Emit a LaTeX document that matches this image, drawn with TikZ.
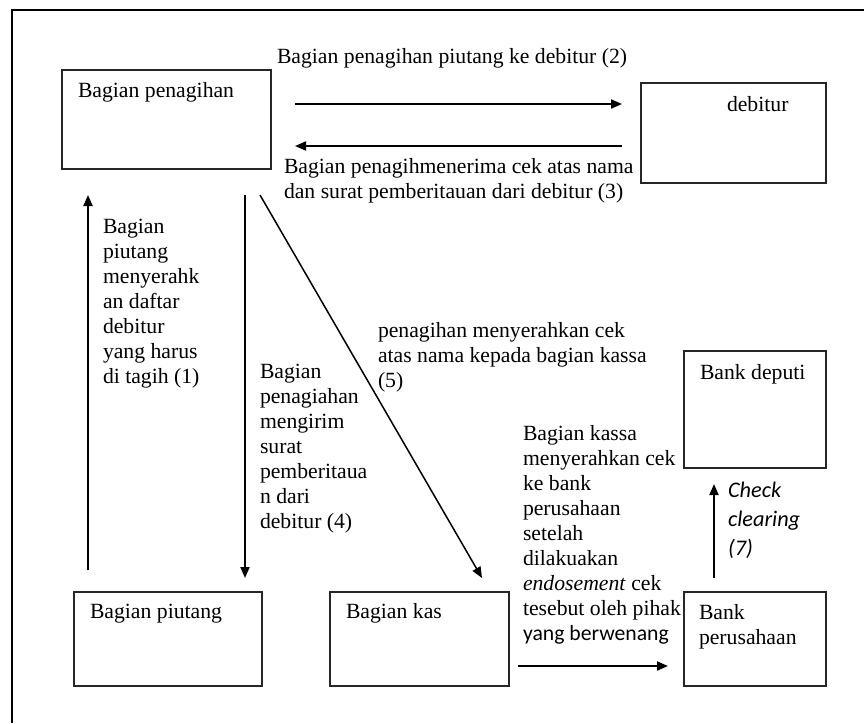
\documentclass[tikz,border=0pt]{standalone}
\usepackage{fontspec}
\usepackage{array}
\setmainfont{Liberation Serif}
\newfontfamily\calibrifont{Carlito}
\usetikzlibrary{arrows.meta}

% stacked lines whose baseline is that of the first line
\newcommand{\linestack}[2][25pt]{{\setlength{\baselineskip}{#1}\renewcommand{\arraystretch}{1}%
  \setlength{\extrarowheight}{0pt}%
  \begin{tabular}[t]{@{}l@{}}#2\end{tabular}}}

\tikzset{
  box/.style={draw=black!85, line width=1.3pt, anchor=north west, inner sep=0pt, outer sep=0pt},
  txt/.style={anchor=base west, inner sep=0pt, outer sep=0pt, text=black,
              font=\fontsize{21.7}{25}\selectfont},
  flow/.style={line width=2pt, -{Triangle[length=11pt,width=9pt]}},
  frame/.style={line width=1.8pt}
}

\begin{document}
\begin{tikzpicture}[x=1pt,y=-1pt]
\useasboundingbox (0,0) rectangle (864,723);

% outer frame (left and top edges)
\draw[frame] (12,723) -- (12,10) -- (864,10);

% boxes
\node[box, minimum width=209pt, minimum height=99pt]  (pen)  at (62,70)  {};
\node[box, minimum width=185pt, minimum height=100pt] (deb)  at (641,83) {};
\node[box, minimum width=142pt, minimum height=117pt] (dep)  at (684,351) {};
\node[box, minimum width=188pt, minimum height=94pt]  (piu)  at (74,592) {};
\node[box, minimum width=179pt, minimum height=94pt]  (kas)  at (330,592) {};
\node[box, minimum width=142pt, minimum height=94pt]  (bper) at (684,592) {};

% box titles
\node[txt] (tpen)  at (78,97)   {Bagian penagihan};
\node[txt] (tdeb)  at (727,111) {debitur};
\node[txt] (tdep)  at (700,379) {Bank deputi};
\node[txt] (tpiu)  at (90,618)  {Bagian piutang};
\node[txt] (tkas)  at (346,618) {Bagian kas};
\node[txt] (tbper) at (699,619) {\linestack[30pt]{Bank\\perusahaan}};

% connector end points
\coordinate (p2s) at (295,104);  \coordinate (p2e) at (622,104);
\coordinate (p3s) at (622,146);  \coordinate (p3e) at (295,146);
\coordinate (p1s) at (88,570);   \coordinate (p1e) at (88,195);
\coordinate (p4s) at (245,195);  \coordinate (p4e) at (245,578);
\coordinate (p5s) at (260,195);  \coordinate (p5e) at (482,578);
\coordinate (p6s) at (518,666);  \coordinate (p6e) at (668,666);
\coordinate (p7s) at (714,578);  \coordinate (p7e) at (714,484);

% connectors
\draw[flow] (p2s) -- (p2e);
\draw[flow] (p3s) -- (p3e);
\draw[flow] (p1s) -- (p1e);
\draw[flow] (p4s) -- (p4e);
\draw[line width=1.5pt, -{Triangle[length=11pt,width=9pt]}] (p5s) -- (p5e);
\draw[flow] (p6s) -- (p6e);
\draw[flow] (p7s) -- (p7e);

% connector labels
\node[txt] (l2) at (277,63) {Bagian penagihan piutang ke debitur (2)};
\node[txt] (l3) at (284,173) {\linestack[29pt]{Bagian penagihmenerima cek atas nama\\dan surat pemberitauan dari debitur (3)}};
\node[txt] (l1) at (103,233) {\linestack{Bagian\\piutang\\menyerahk\\an daftar\\debitur\\yang harus\\di tagih (1)}};
\node[txt] (l4) at (260,378) {\linestack{Bagian\\penagiahan\\mengirim\\surat\\pemberitaua\\n dari\\debitur (4)}};
\node[txt] (l5) at (378,337) {\linestack{penagihan menyerahkan cek\\atas nama kepada bagian kassa\\(5)}};
\node[txt] (l6) at (523,440) {\linestack{Bagian kassa\\menyerahkan cek\\ke bank\\perusahaan\\setelah\\dilakuakan\\\textit{endosement} cek\\tesebut oleh pihak\\{\calibrifont yang berwenang}}};
\node[txt, font=\calibrifont\itshape\fontsize{22.3}{29}\selectfont] (l7) at (728,497) {\linestack[29pt]{Check\\clearing\\(7)}};

\end{tikzpicture}
\end{document}
